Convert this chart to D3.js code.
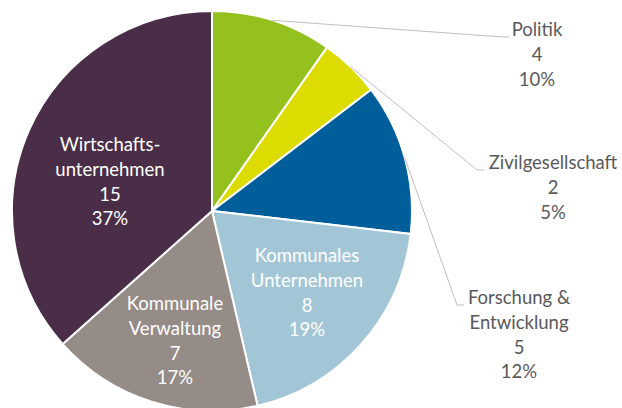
<!DOCTYPE html>
<html>
<head>
<meta charset="utf-8">
<script src="https://cdn.jsdelivr.net/npm/d3@7"></script>
<style>
body { margin: 0; background: #fff; }
text { font-family: Lato, "Open Sans", sans-serif; font-size: 18.5px; }
</style>
</head>
<body>
<svg id="chart" width="622" height="408"></svg>
<script>
// Akteure nach Gruppe
var categories = ["Politik", "Zivilgesellschaft", "Forschung & Entwicklung", "Kommunales Unternehmen", "Kommunale Verwaltung", "Wirtschaftsunternehmen"];
var counts = [4, 2, 5, 8, 7, 15];
var percentLabels = ["10%", "5%", "12%", "19%", "17%", "37%"];
// how the category names are broken into lines in the labels
var labelLines = [["Politik"], ["Zivilgesellschaft"], ["Forschung &", "Entwicklung"], ["Kommunales", "Unternehmen"], ["Kommunale", "Verwaltung"], ["Wirtschafts-", "unternehmen"]];

var colors = ["#95c11f", "#dcdc00", "#005f9a", "#a3c6d6", "#958b87", "#4a2e48"];

var cx = 212, cy = 211, radius = 200;

var svg = d3.select("#chart");
var g = svg.append("g").attr("transform", "translate(" + cx + "," + cy + ")");

var pie = d3.pie().sort(null).value(function(d){ return d; });
var arcs = pie(counts);

var arc = d3.arc().innerRadius(0).outerRadius(radius);

g.selectAll("path.slice")
  .data(arcs)
  .enter()
  .append("path")
  .attr("class", "slice")
  .attr("d", arc)
  .attr("fill", function(d, i){ return colors[i]; })
  .attr("stroke", "#fff")
  .attr("stroke-width", 2);

// leader lines start on the rim at the slice middle
var edge = d3.arc().innerRadius(radius).outerRadius(radius);

// outside label anchors (page coords) for the three small slices
var outside = {
  0: { x: 537, y: 30, elbow: [503, 37], end: [509, 37] },
  1: { x: 553, y: 163, elbow: [477, 170], end: [484, 170] },
  2: { x: 519, y: 298, elbow: [457, 305], end: [464, 305] }
};
// inside label centres (page coords)
var insidePos = {
  3: [307, 256],
  4: [175, 304],
  5: [110, 145]
};

var lineH = 24.6;

arcs.forEach(function(d, i){
  var lines = labelLines[i].concat([String(counts[i]), percentLabels[i]]);
  var x, y, fill;
  if (outside[i]) {
    var o = outside[i];
    var p = edge.centroid(d);
    svg.append("polyline")
      .attr("points", [[p[0] + cx, p[1] + cy], o.elbow, o.end].map(function(q){ return q.join(","); }).join(" "))
      .attr("fill", "none")
      .attr("stroke", "#bfbfbf")
      .attr("stroke-width", 1);
    x = o.x; y = o.y; fill = "#595959";
  } else {
    x = insidePos[i][0]; y = insidePos[i][1]; fill = "#fff";
  }
  var t = svg.append("text")
    .attr("text-anchor", "middle")
    .attr("fill", fill);
  lines.forEach(function(s, k){
    t.append("tspan")
      .attr("x", x)
      .attr("y", y + k * lineH)
      .attr("dy", "0.35em")
      .text(s);
  });
});
</script>
</body>
</html>
